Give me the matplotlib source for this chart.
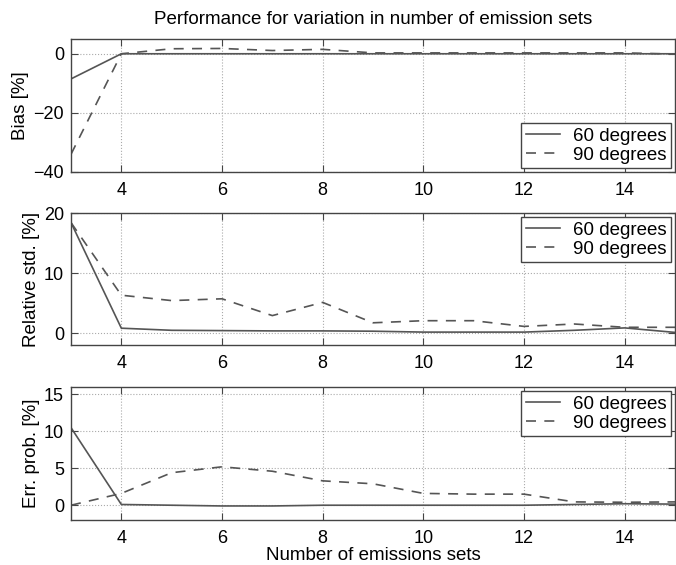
import matplotlib
matplotlib.use('Agg')
import matplotlib.pyplot as plt

plt.rcParams['font.family'] = ['Liberation Sans', 'DejaVu Sans']

# data
n_sets = [3, 4, 5, 6, 7, 8, 9, 10, 11, 12, 13, 14, 15]

bias_60 = [-8.5, 0, 0, 0, 0, 0, 0, 0, 0, 0, 0, 0, 0]
bias_90 = [-34, 0, 1.7, 1.8, 1.1, 1.5, 0.3, 0.3, 0.3, 0.3, 0.3, 0.3, -0.1]

std_60 = [18.4, 0.8, 0.45, 0.4, 0.35, 0.35, 0.3, 0.15, 0.15, 0.15, 0.45, 0.85, 0.1]
std_90 = [18.4, 6.3, 5.4, 5.7, 2.9, 5.1, 1.7, 2.05, 2.05, 1.1, 1.5, 0.95, 0.95]

err_60 = [10.5, 0.1, 0.0, -0.1, -0.1, 0.0, 0.0, 0.0, 0.0, 0.0, 0.1, 0.2, 0.15]
err_90 = [0.0, 1.6, 4.4, 5.2, 4.6, 3.3, 2.9, 1.6, 1.5, 1.5, 0.45, 0.4, 0.45]

labels = ['60 degrees', '90 degrees']
title = 'Performance for variation in number of emission sets'
xlabel = 'Number of emissions sets'

panels = [
    (bias_60, bias_90, 'Bias [%]', (-40, 5), [-40, -20, 0], 'lower right'),
    (std_60, std_90, 'Relative std. [%]', (-2, 20), [0, 10, 20], 'upper right'),
    (err_60, err_90, 'Err. prob. [%]', (-2, 16), [0, 5, 10, 15], 'upper right'),
]

W, H = 676, 565
fig = plt.figure(figsize=(W / 100, H / 100), dpi=100)
boxes = [(39, 172), (213, 345), (387, 520)]
left, right = 71, 675
fs = 13.5
line_col = '#555555'

axes = []
for (top, bot), (a, b, ylab, ylim, yt, loc) in zip(boxes, panels):
    ax = fig.add_axes([left / W, 1 - bot / H, (right - left) / W, (bot - top) / H])
    ax.plot(n_sets, a, color=line_col, lw=1.2, label=labels[0])
    ax.plot(n_sets, b, color=line_col, lw=1.2, ls=(0, (6, 5)), label=labels[1])
    ax.set_xlim(3, 15)
    ax.set_ylim(*ylim)
    ax.set_yticks(yt)
    ax.set_xticks([4, 6, 8, 10, 12, 14])
    ax.grid(True, ls=':', color='#aaaaaa', lw=0.8)
    ax.tick_params(direction='in', top=True, right=True, labelsize=13, length=5,
                   color='#444444', pad=5)
    ax.tick_params(axis='x', pad=7)
    for s in ax.spines.values():
        s.set_color('#444444')
        s.set_linewidth(1.0)
    ax.set_ylabel(ylab, fontsize=fs, labelpad=3)
    leg = ax.legend(loc=loc, fontsize=fs, handlelength=1.8, labelspacing=0.1,
                    borderpad=0.25, borderaxespad=0.2, handletextpad=0.7,
                    fancybox=False, framealpha=1)
    leg.get_frame().set_edgecolor('#444444')
    leg.get_frame().set_linewidth(1.0)
    axes.append(ax)

axes[0].set_title(title, fontsize=fs, pad=11)
axes[2].set_xlabel(xlabel, fontsize=fs, labelpad=0)

fig.align_ylabels(axes)
fig.savefig('out.png', dpi=100)
